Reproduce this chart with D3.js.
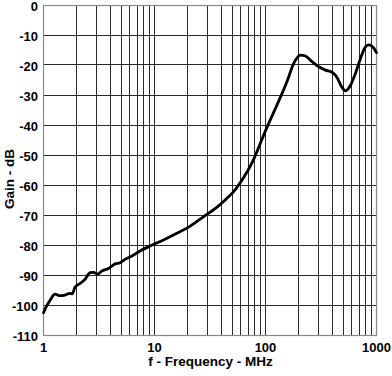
<!DOCTYPE html>
<html>
<head>
<meta charset="utf-8">
<script src="https://cdn.jsdelivr.net/npm/d3@7"></script>
<style>
  html, body { margin: 0; padding: 0; background: #fff; }
  svg { display: block; font-family: "Liberation Sans", Arial, sans-serif; font-weight: bold; }
</style>
</head>
<body>
<svg id="chart" width="392" height="376"></svg>
<script>
// curve (MHz, dB)
const freq = [1, 1.05, 1.14, 1.27, 1.41, 1.56, 1.73, 1.82, 1.92, 2.14, 2.37, 2.63, 2.82, 3.06, 3.35, 3.85,
  4.42, 4.9, 5.43, 6.25, 7.4, 9.15, 12.05, 15.9, 21, 27.6, 36.6, 45, 51.6, 59.3, 68.3, 78.4, 85,
  103, 127, 156, 180, 207, 229, 263, 302, 347, 398, 445, 484, 526, 575, 646, 718, 797, 855, 946, 1000];
const gain = [-102.6, -100.8, -98.6, -96.4, -96.9, -96.7, -96.1, -96.3, -94.1, -92.8, -91.4, -89.2, -89.1, -89.7, -88.7, -87.8,
  -86.3, -85.9, -84.8, -83.7, -82, -80.3, -78.3, -76.1, -73.7, -70.6, -67.4, -64.4, -62.2, -59.2, -55.6, -51.4, -48.3,
  -40.8, -33.3, -25.6, -19.4, -16.7, -17, -18.9, -20.6, -21.7, -22.4, -24.4, -27.2, -28.6, -27.2, -22.8, -17.8, -13.9, -13.3, -14.4, -15.9];

const xTickLabels = [1, 10, 100, 1000];
const yTicks = d3.range(0, -111, -10);

const svg = d3.select("#chart");
const plotLeft = 43.5, plotRight = 376.5, plotTop = 5, plotBottom = 335;

const x = d3.scaleLog().domain([1, 1000]).range([plotLeft, plotRight]);
const y = d3.scaleLinear().domain([-110, 0]).range([plotBottom, plotTop]);

const snap = v => Math.round(v - 0.5) + 0.5;

// grid
const grid = svg.append("g").attr("stroke", "#2a2a2a").attr("stroke-width", 1);
x.ticks().filter(d => d > 1 && d < 1000).forEach(d => {
  grid.append("line")
    .attr("x1", snap(x(d))).attr("x2", snap(x(d)))
    .attr("y1", plotTop).attr("y2", plotBottom);
});
yTicks.filter(d => d > -110 && d < 0).forEach(d => {
  grid.append("line")
    .attr("x1", plotLeft).attr("x2", plotRight)
    .attr("y1", snap(y(d))).attr("y2", snap(y(d)));
});

// frame
svg.append("rect")
  .attr("x", plotLeft).attr("y", snap(plotTop))
  .attr("width", plotRight - plotLeft).attr("height", plotBottom - plotTop)
  .attr("fill", "none").attr("stroke", "#888").attr("stroke-width", 1.2);

// curve
const pts = freq.map((f, i) => [f, gain[i]]);
const line = d3.line()
  .x(d => x(d[0]))
  .y(d => y(d[1]))
  .curve(d3.curveMonotoneX);

svg.append("path")
  .datum(pts)
  .attr("d", line)
  .attr("fill", "none")
  .attr("stroke", "#000")
  .attr("stroke-width", 2.8)
  .attr("stroke-linejoin", "round")
  .attr("stroke-linecap", "round");

// y tick labels
svg.append("g").selectAll("text")
  .data(yTicks)
  .join("text")
  .attr("x", 38)
  .attr("y", d => y(d) + 1.5)
  .attr("text-anchor", "end")
  .attr("dominant-baseline", "central")
  .attr("font-size", 13)
  .text(d => d);

// x tick labels
svg.append("g").selectAll("text")
  .data(xTickLabels)
  .join("text")
  .attr("x", d => x(d))
  .attr("y", 352)
  .attr("text-anchor", "middle")
  .attr("font-size", 13)
  .text(d => d);

// axis titles
svg.append("text")
  .attr("x", 210.5)
  .attr("y", 366)
  .attr("text-anchor", "middle")
  .attr("font-size", 13.5)
  .text("f - Frequency - MHz");

svg.append("text")
  .attr("transform", "translate(13.5,179) rotate(-90)")
  .attr("text-anchor", "middle")
  .attr("font-size", 13.5)
  .text("Gain - dB");
</script>
</body>
</html>
